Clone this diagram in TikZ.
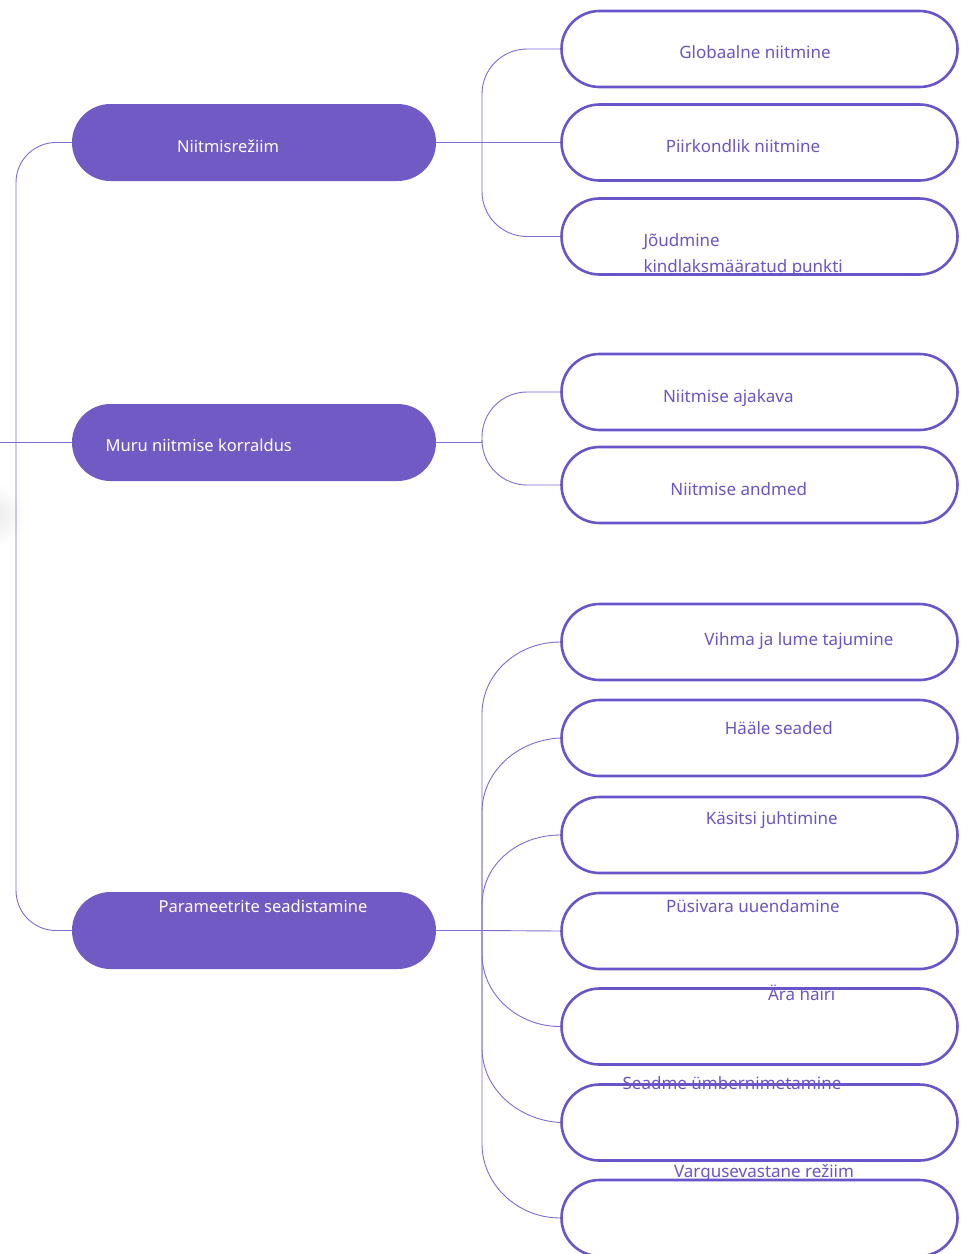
\documentclass[tikz,border=0pt]{standalone}
\usepackage{fontspec}
\setmainfont{Noto Sans}
\definecolor{rootfill}{HTML}{725AC5}
\definecolor{boxline}{HTML}{6A54CA}
\definecolor{txtpurple}{HTML}{6B55C6}
\definecolor{connline}{HTML}{7F6CD3}
\tikzset{
  rootbox/.style={rectangle, rounded corners=38.5pt, fill=rootfill, draw=none, minimum width=364pt, minimum height=77pt, inner sep=0pt},
  childbox/.style={rectangle, rounded corners=38pt, fill=white, draw=boxline, line width=2.6pt, minimum width=396pt, minimum height=76pt, inner sep=0pt},
  roottext/.style={text=white, font=\fontsize{16.5}{22}\selectfont, inner sep=0pt},
  childtext/.style={text=txtpurple, font=\fontsize{17}{26}\selectfont, inner sep=0pt},
  conn/.style={draw=connline, line width=0.9pt},
}
\begin{document}
\begin{tikzpicture}[x=1pt,y=-1pt]
\useasboundingbox (0,0) rectangle (968,1254);
\clip (0,0) rectangle (968,1254);
\shade[inner color=black!8, outer color=white] (-6,515) circle (32);

% named coordinates
\coordinate (offroot) at (-5,442.5);
\coordinate (j1) at (482,142.5);
\coordinate (j2) at (482,442.5);
\coordinate (j3) at (482,930.5);

% root level nodes
\node[rootbox] (r1) at (254,142.5) {};
\node[rootbox] (r2) at (254,442.5) {};
\node[rootbox] (r3) at (254,930.5) {};

% child boxes
\node[childbox] (c1) at (759.5,49) {};
\node[childbox] (c2) at (759.5,142.5) {};
\node[childbox] (c3) at (759.5,236.5) {};
\node[childbox] (d1) at (759.5,392) {};
\node[childbox] (d2) at (759.5,485) {};
\node[childbox] (e1) at (759.5,642) {};
\node[childbox] (e2) at (759.5,738) {};
\node[childbox] (e3) at (759.5,835) {};
\node[childbox] (e4) at (759.5,931) {};
\node[childbox] (e5) at (759.5,1026.5) {};
\node[childbox] (e6) at (759.5,1122.5) {};
\node[childbox] (e7) at (759.5,1218) {};

% left connectors
\draw[conn, rounded corners=40pt] (r1.west) -| (16,500) |- (r3.west);
\draw[conn] (offroot) -- (r2.west);

% group 1
\draw[conn] (r1.east) -- (j1) -- (c2.west);
\draw[conn, rounded corners=45pt] (j1) |- (c1.west);
\draw[conn, rounded corners=45pt] (j1) |- (c3.west);

% group 2
\draw[conn] (r2.east) -- (j2);
\draw[conn, rounded corners=45pt] (j2) |- (d1.west);
\draw[conn, rounded corners=45pt] (j2) |- (d2.west);

% group 3
\draw[conn] (r3.east) -- (j3) -- (e4.west);
\draw[conn] (j3) -- (482,714) .. controls (482,674) and (517,642) .. (e1.west);
\draw[conn] (j3) -- (482,812) .. controls (482,772) and (517,740) .. (e2.west);
\draw[conn] (j3) -- (482,905) .. controls (482,865) and (517,835) .. (e3.west);
\draw[conn] (j3) -- (482,954) .. controls (482,994) and (517,1026.5) .. (e5.west);
\draw[conn] (j3) -- (482,1048) .. controls (482,1088) and (517,1120) .. (e6.west);
\draw[conn] (j3) -- (482,1144) .. controls (482,1184) and (517,1218) .. (e7.west);

% texts
\node[roottext, anchor=base] (tr1) at (228,152.3) {Niitmisrežiim};
\node[roottext, anchor=base west] (tr2) at (105.5,451.7) {Muru niitmise korraldus};
\node[roottext, anchor=base] (tr3) at (263,912.7) {Parameetrite seadistamine};

\node[childtext, anchor=base] (tc1) at (755,58) {Globaalne niitmine};
\node[childtext, anchor=base] (tc2) at (743,152.7) {Piirkondlik niitmine};
\node[childtext, anchor=base west, align=left] (tc3) at (643.3,272.7) {Jõudmine\\kindlaksmääratud punkti};
\node[childtext, anchor=base] (td1) at (728.3,402.3) {Niitmise ajakava};
\node[childtext, anchor=base] (td2) at (738.7,495) {Niitmise andmed};
\node[childtext, anchor=base] (te1) at (799,645.7) {Vihma ja lume tajumine};
\node[childtext, anchor=base] (te2) at (778.8,734) {Hääle seaded};
\node[childtext, anchor=base] (te3) at (771.8,824) {Käsitsi juhtimine};
\node[childtext, anchor=base] (te4) at (753,912.7) {Püsivara uuendamine};
\node[childtext, anchor=base] (te5) at (801.7,1000.7) {Ära häiri};
\node[childtext, anchor=base] (te6) at (732,1089.3) {Seadme ümbernimetamine};
\node[childtext, anchor=base] (te7) at (764,1177.3) {Vargusevastane režiim};
\end{tikzpicture}
\end{document}
